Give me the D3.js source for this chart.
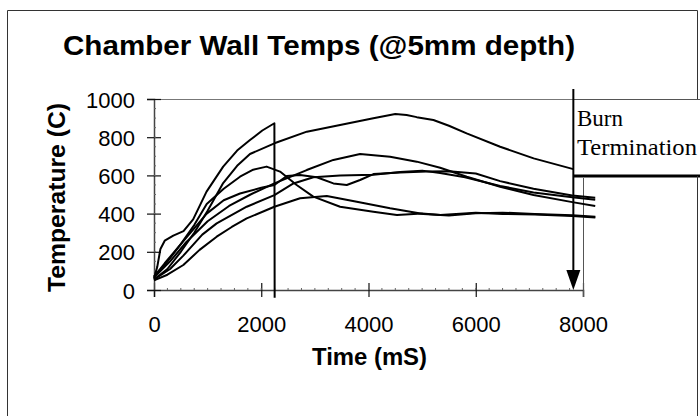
<!DOCTYPE html>
<html>
<head>
<meta charset="utf-8">
<script src="https://cdn.jsdelivr.net/npm/d3@7/dist/d3.min.js"></script>
<style>
  html, body { margin: 0; padding: 0; background: #fff; }
  svg { display: block; }
</style>
</head>
<body>
<svg id="chart" width="700" height="416"></svg>
<script>
// ---- data (time in ms, temperature in C) ----
const xTicks = [0, 2000, 4000, 6000, 8000];
const yTicks = [0, 200, 400, 600, 800, 1000];
const burnTime = 7820;

const seriesA = [[0,60],[60,120],[120,215],[200,258],[360,285],[550,308],[730,370],[980,515],[1290,646],[1550,730],[1790,785],[2020,835],[2245,873],[2250,-40]];
const seriesB = [[0,55],[250,110],[500,200],[750,300],[1000,415],[1290,560],[1550,650],[1790,712],[2245,768],[2850,829],[3470,864],[4090,899],[4500,921],[4710,916],[4900,905],[5210,890],[5500,860],[5830,820],[6455,750],[7080,689],[7820,633]];
const seriesC = [[0,70],[200,130],[500,240],[750,340],[983,450],[1300,530],[1604,593],[1850,630],[2100,646],[2350,620],[2660,550],[2970,489],[3470,436],[4090,410],[4530,393],[5000,400],[5340,393],[6000,405],[6500,398],[7100,395],[7800,387],[8230,380]];
const seriesD = [[0,50],[250,80],[547,131],[850,210],[1169,279],[1450,330],[1729,375],[2245,436],[2724,480],[3222,492],[3782,462],[4403,428],[5024,398],[5500,390],[6000,402],[6500,405],[7100,398],[7800,392],[8230,383]];
const seriesE = [[0,65],[300,150],[600,250],[1000,360],[1400,440],[1800,500],[2245,558],[2848,628],[3345,681],[3843,712],[4403,698],[4900,672],[5336,640],[5833,593],[6455,541],[7077,497],[7800,460],[8228,440]];
const seriesF = [[0,70],[200,140],[500,240],[983,400],[1300,470],[1604,505],[2000,535],[2245,550],[2475,597],[2724,602],[3035,590],[3345,558],[3595,550],[3843,576],[4092,607],[4590,615],[5087,620],[5500,622],[6000,610],[6455,570],[7077,530],[7800,495],[8228,483]];
const seriesG = [[0,55],[300,110],[547,180],[900,290],[1169,349],[1729,436],[2245,497],[2600,558],[2973,590],[3470,600],[4092,603],[4590,618],[5000,625],[5336,612],[5800,590],[6455,545],[7077,510],[7800,486],[8228,472]];
const allSeries = [seriesA, seriesB, seriesC, seriesD, seriesE, seriesF, seriesG];

const titleText = "Chamber Wall Temps (@5mm depth)";
const xTitle = "Time (mS)";
const yTitle = "Temperature (C)";
const noteLines = ["Burn", "Termination"];

// ---- drawing ----
const svg = d3.select("#chart");
const x = d3.scaleLinear().domain([0, 8000]).range([154, 583]);
const y = d3.scaleLinear().domain([0, 1000]).range([290, 99]);

// outer frame
svg.append("path")
  .attr("d", "M7.5,420 L7.5,10.5 L697.5,10.5 L697.5,420")
  .attr("fill", "none").attr("stroke", "#333").attr("stroke-width", 1);

// title
svg.append("text")
  .attr("x", 63).attr("y", 55)
  .attr("font-family", "Liberation Sans, Arial, sans-serif")
  .attr("font-weight", "bold").attr("font-size", 28)
  .attr("textLength", 512).attr("lengthAdjust", "spacingAndGlyphs")
  .text(titleText);

// plot top border
svg.append("line")
  .attr("x1", x(0)).attr("x2", x(burnTime))
  .attr("y1", y(1000) + 0.5).attr("y2", y(1000) + 0.5)
  .attr("stroke", "#777").attr("stroke-width", 1);

// x axis
const xAxis = d3.axisBottom(x).tickValues(xTicks).tickSize(7).tickFormat(d3.format("d"));
const gx = svg.append("g").attr("transform", `translate(0,${y(0)})`).call(xAxis);
gx.select(".domain").attr("stroke", "#444").attr("stroke-width", 1.5);
gx.selectAll(".tick line").attr("y1", -7).attr("y2", 7).attr("stroke", "#111").attr("stroke-width", 1.2);
gx.selectAll(".tick text")
  .attr("y", 42).attr("dy", 0)
  .attr("font-family", "Liberation Sans, Arial, sans-serif")
  .attr("font-size", 22).attr("fill", "#000");

// x minor ticks
gx.selectAll(".minor").data(d3.range(250, 8000, 250)).enter().append("line")
  .attr("x1", d => x(d)).attr("x2", d => x(d))
  .attr("y1", -2).attr("y2", 0).attr("stroke", "#666").attr("stroke-width", 1);

// y axis
const yAxis = d3.axisLeft(y).tickValues(yTicks).tickSize(7).tickFormat(d3.format("d"));
const gy = svg.append("g").attr("transform", `translate(${x(0)},0)`).call(yAxis);
gy.select(".domain").attr("stroke", "#444").attr("stroke-width", 1.5);
gy.selectAll(".tick line").attr("x1", -7).attr("x2", 7).attr("stroke", "#111").attr("stroke-width", 1.2);
gy.selectAll(".tick text")
  .attr("x", -19).attr("dy", 0).attr("y", 8)
  .attr("font-family", "Liberation Sans, Arial, sans-serif")
  .attr("font-size", 22).attr("fill", "#000");
gy.selectAll(".minor").data(d3.range(50, 1000, 50)).enter().append("line")
  .attr("y1", d => y(d)).attr("y2", d => y(d))
  .attr("x1", 0).attr("x2", 2).attr("stroke", "#666").attr("stroke-width", 1);

// vertical line at 8000
svg.append("line")
  .attr("x1", x(8000) + 0.5).attr("x2", x(8000) + 0.5)
  .attr("y1", 178).attr("y2", 297)
  .attr("stroke", "#555").attr("stroke-width", 1);

// axis titles
svg.append("text")
  .attr("x", 369.5).attr("y", 365)
  .attr("text-anchor", "middle")
  .attr("font-family", "Liberation Sans, Arial, sans-serif")
  .attr("font-weight", "bold").attr("font-size", 24)
  .attr("textLength", 115).attr("lengthAdjust", "spacingAndGlyphs")
  .text(xTitle);

svg.append("text")
  .attr("transform", "translate(65,197.5) rotate(-90)")
  .attr("text-anchor", "middle")
  .attr("font-family", "Liberation Sans, Arial, sans-serif")
  .attr("font-weight", "bold").attr("font-size", 24)
  .attr("textLength", 189).attr("lengthAdjust", "spacingAndGlyphs")
  .text(yTitle);

// data lines
const line = d3.line().x(d => x(d[0])).y(d => y(d[1]));
svg.append("g").selectAll("path").data(allSeries).enter().append("path")
  .attr("d", line)
  .attr("fill", "none").attr("stroke", "#000")
  .attr("stroke-width", 2).attr("stroke-linejoin", "round");

// burn termination annotation
const bx = x(burnTime);
svg.append("rect")
  .attr("x", bx).attr("y", y(1000) + 0.5)
  .attr("width", 720 - bx).attr("height", 76)
  .attr("fill", "#fff").attr("stroke", "none");
svg.append("line").attr("x1", bx).attr("x2", 705).attr("y1", y(1000) + 0.5).attr("y2", y(1000) + 0.5)
  .attr("stroke", "#555").attr("stroke-width", 1);
svg.append("line").attr("x1", bx).attr("x2", 705).attr("y1", 176).attr("y2", 176)
  .attr("stroke", "#000").attr("stroke-width", 3);
svg.append("line").attr("x1", bx).attr("x2", bx).attr("y1", 89).attr("y2", y(0) - 12)
  .attr("stroke", "#000").attr("stroke-width", 2);
svg.append("path")
  .attr("d", `M${bx - 7},${y(0) - 20} L${bx + 7},${y(0) - 20} L${bx},${y(0)} Z`)
  .attr("fill", "#000");
svg.append("line").attr("x1", 697.5).attr("x2", 697.5).attr("y1", 176).attr("y2", 420)
  .attr("stroke", "#333").attr("stroke-width", 1);

svg.append("text").attr("x", 577).attr("y", 126)
  .attr("font-family", "Liberation Serif, Times New Roman, serif")
  .attr("font-size", 23).text(noteLines[0]);
svg.append("text").attr("x", 577).attr("y", 155)
  .attr("font-family", "Liberation Serif, Times New Roman, serif")
  .attr("font-size", 23)
  .attr("textLength", 120).attr("lengthAdjust", "spacingAndGlyphs")
  .text(noteLines[1]);
</script>
</body>
</html>
